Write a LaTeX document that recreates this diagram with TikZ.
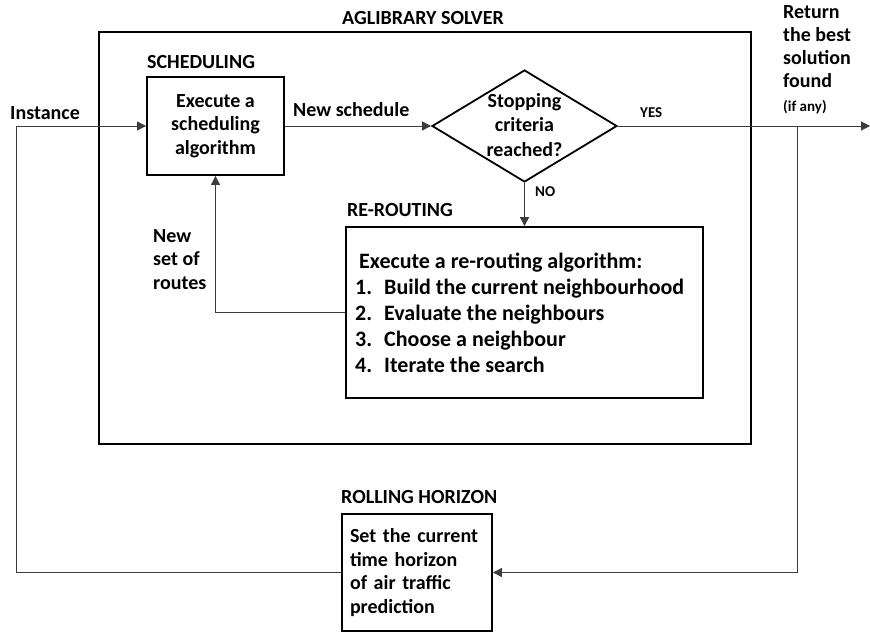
\documentclass[tikz,border=0pt]{standalone}
\usepackage{fontspec}
\setmainfont{Carlito}
\usepackage{xcolor}
\usetikzlibrary{shapes,arrows,arrows.meta,positioning,calc}
\definecolor{wiregray}{RGB}{60,60,60}

\begin{document}
\begin{tikzpicture}[x=1pt,y=-1pt,
    box/.style={draw,line width=1.8pt,inner sep=0pt},
    txt/.style={font=\bfseries\fontsize{20}{23.5}\selectfont,inner sep=0pt},
    bigtxt/.style={font=\bfseries\fontsize{22}{26}\selectfont,inner sep=0pt},
    tiny/.style={font=\bfseries\fontsize{15}{17}\selectfont,inner sep=0pt},
    wire/.style={draw=wiregray,line width=0.9pt},
    flow/.style={wire,-{Triangle[length=9pt,width=9pt]}}]
    \useasboundingbox (0,0) rectangle (870,633);

    % AGLIBRARY solver frame
    \node[box,minimum width=652pt,minimum height=412pt] (solver) at (425,238) {};
    \node[txt] (solvertitle) at (423,18) {AGLIBRARY SOLVER};

    % Scheduling
    \node[txt,anchor=west] (schedtitle) at (147,62) {SCHEDULING};
    \node[box,txt,align=center,minimum width=137pt,minimum height=98pt] (sched) at (215.5,126)
        {Execute a\\scheduling\\algorithm};

    % Stopping test
    \node[draw,diamond,line width=1.8pt,inner sep=0pt,minimum width=185pt,minimum height=112pt] (stop) at (524.5,126) {};
    \node[txt,align=center,font=\bfseries\fontsize{20}{24.5}\selectfont] (stoptext) at (524.5,125) {Stopping\\criteria\\reached?};

    % Re-routing
    \node[txt,anchor=west] (rrtitle) at (347,210) {RE-ROUTING};
    \node[box,bigtxt,minimum width=357pt,minimum height=171pt] (rr) at (524.5,312.5) {};
    \node[bigtxt,align=left,anchor=west] (rrtext) at (355,312.5)
        {\hspace*{4pt}Execute a re-routing algorithm:\\
         1.\hspace{12pt}Build the current neighbourhood\\
         2.\hspace{12pt}Evaluate the neighbours\\
         3.\hspace{12pt}Choose a neighbour\\
         4.\hspace{12pt}Iterate the search};

    % Rolling horizon
    \node[txt,anchor=west] (rolltitle) at (341,497) {ROLLING HORIZON};
    \node[box,txt,align=left,minimum width=150pt,minimum height=117pt,text width=134pt] (roll) at (417,572.5)
        {Set the current\\time horizon\\of air traffic\\prediction};

    % Labels
    \node[txt,anchor=west] (inst) at (10,113) {Instance};
    \node[txt,anchor=west] (newsched) at (293,110) {New schedule};
    \node[tiny,anchor=west] (yes) at (640,113) {YES};
    \node[tiny,anchor=west] (no) at (535,192) {NO};
    \node[txt,align=left,anchor=north west] (newroutes) at (153,229) {New\\set of\\routes};
    \node[txt,align=left,anchor=north west,font=\bfseries\fontsize{20}{23}\selectfont] (ret) at (783,5) {Return\\the best\\solution\\found};
    \node[tiny,anchor=west] (ifany) at (783,107) {(if any)};

    % Connectors
    \coordinate (loopL) at (16,572.5);
    \coordinate (tap) at (797,126);
    \coordinate (out) at (870,126);
    \draw[flow] (roll.west) -- (loopL) |- (sched.west);
    \draw[flow] (sched.east) -- (stop.west);
    \draw[flow] (stop.east) -- (out);
    \draw[flow] (stop.south) -- (rr.north);
    \draw[flow] (rr.west) -| (sched.south);
    \draw[flow] (tap) |- (roll.east);
\end{tikzpicture}
\end{document}
